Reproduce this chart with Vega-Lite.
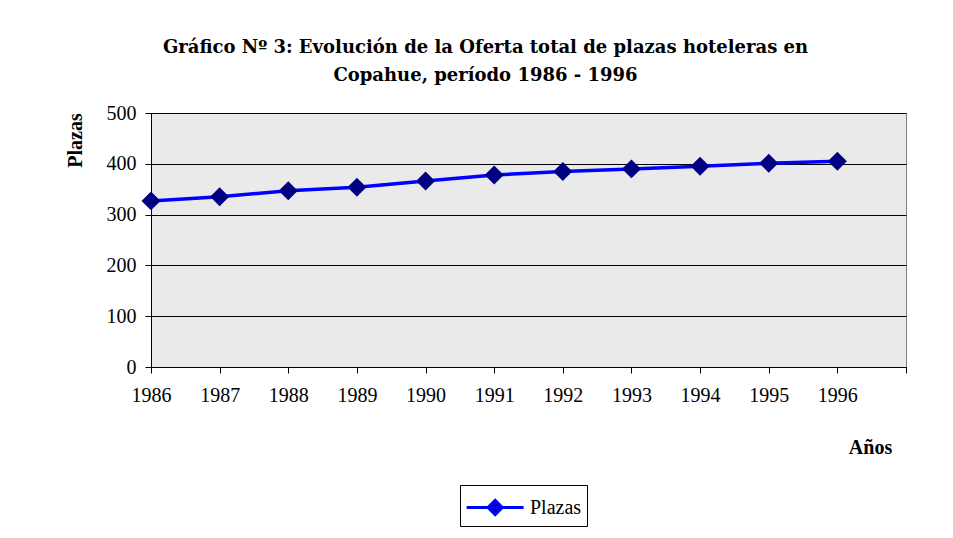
{
  "$schema": "https://vega.github.io/schema/vega-lite/v6.json",
  "width": 755,
  "height": 254,
  "autosize": {"type": "none"},
  "padding": {"left": 151, "top": 113, "right": 47, "bottom": 171},
  "background": "white",
  "title": {
    "text": ["Gráfico Nº 3: Evolución de la Oferta total de plazas hoteleras en", "Copahue, período 1986 - 1996"],
    "font": "DejaVu Serif",
    "fontSize": 18,
    "fontWeight": "bold",
    "color": "black",
    "anchor": "middle",
    "dx": -43,
    "offset": 18,
    "lineHeight": 28
  },
  "config": {
    "view": {"fill": "#eaeaea", "stroke": "#808080", "strokeWidth": 1},
    "axis": {
      "labelFont": "Liberation Serif",
      "labelFontSize": 20,
      "labelColor": "black",
      "titleFont": "Liberation Serif",
      "titleFontSize": 20,
      "titleFontWeight": "bold",
      "titleColor": "black",
      "domainColor": "black",
      "tickColor": "black",
      "tickSize": 6
    }
  },
  "data": {
    "values": [
      {"year": 1986, "plazas": 327, "serie": "Plazas"},
      {"year": 1987, "plazas": 335, "serie": "Plazas"},
      {"year": 1988, "plazas": 347, "serie": "Plazas"},
      {"year": 1989, "plazas": 354, "serie": "Plazas"},
      {"year": 1990, "plazas": 366, "serie": "Plazas"},
      {"year": 1991, "plazas": 378, "serie": "Plazas"},
      {"year": 1992, "plazas": 385, "serie": "Plazas"},
      {"year": 1993, "plazas": 390, "serie": "Plazas"},
      {"year": 1994, "plazas": 395, "serie": "Plazas"},
      {"year": 1995, "plazas": 401, "serie": "Plazas"},
      {"year": 1996, "plazas": 405, "serie": "Plazas"}
    ]
  },
  "encoding": {
    "x": {
      "field": "year",
      "type": "quantitative",
      "scale": {"domain": [1986, 1997], "nice": false, "zero": false},
      "axis": {
        "values": [1986, 1987, 1988, 1989, 1990, 1991, 1992, 1993, 1994, 1995, 1996, 1997],
        "labelExpr": "datum.value == 1997 ? '' : datum.label",
        "format": "d",
        "grid": false,
        "labelFlush": false,
        "labelOverlap": false,
        "labelPadding": 12,
        "title": "Años",
        "titleX": 719,
        "titleY": 80,
        "titleAlign": "center",
        "titleBaseline": "middle"
      }
    },
    "y": {
      "field": "plazas",
      "type": "quantitative",
      "scale": {"domain": [0, 500], "nice": false},
      "axis": {
        "values": [0, 100, 200, 300, 400, 500],
        "grid": true,
        "gridColor": "black",
        "gridOpacity": 1,
        "labelPadding": 9,
        "labelFlush": false,
        "title": "Plazas",
        "titleX": -76,
        "titleY": 27,
        "titleAlign": "center",
        "titleBaseline": "middle",
        "titleAngle": -90
      }
    }
  },
  "layer": [
    {
      "mark": {"type": "line", "strokeWidth": 3.5},
      "encoding": {
        "color": {
          "field": "serie",
          "type": "nominal",
          "scale": {"range": ["#0000ff"]},
          "legend": {
            "title": null,
            "orient": "none",
            "legendX": 309,
            "legendY": 372,
            "strokeColor": "black",
            "fillColor": "white",
            "padding": 5,
            "labelFont": "Liberation Serif",
            "labelFontSize": 20,
            "labelColor": "black",
            "symbolType": "M-1,0L2.6,0M0.8,-0.45L1.25,0L0.8,0.45L0.35,0Z",
            "symbolSize": 1000,
            "symbolStrokeWidth": 3,
            "symbolStrokeColor": "#0000ff",
            "labelOffset": 30,
            "encode": {
              "symbols": {"update": {"fill": {"value": "#000080"}, "stroke": {"value": "#0000ff"}}}
            }
          }
        }
      }
    },
    {
      "mark": {"type": "point", "shape": "diamond", "filled": true, "size": 360, "opacity": 1},
      "encoding": {"color": {"value": "#000080"}}
    }
  ]
}
